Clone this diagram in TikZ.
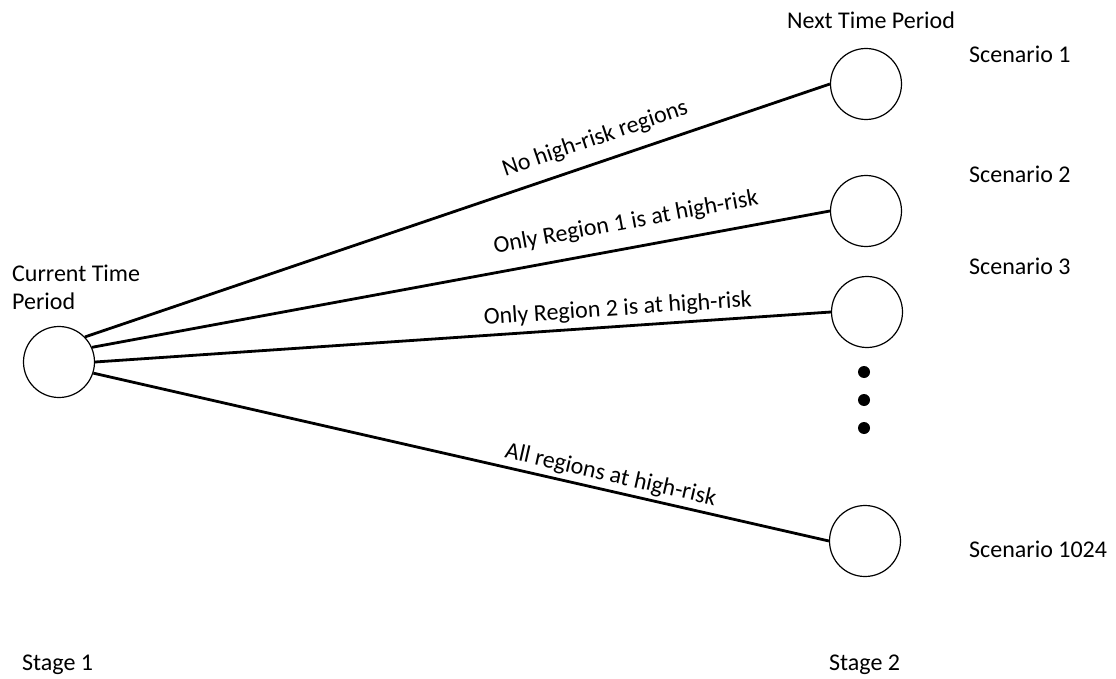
\documentclass[tikz,border=0pt]{standalone}
\usepackage{fontspec}
\setmainfont{Carlito}
\begin{document}
\begin{tikzpicture}[x=1pt,y=-1pt,
  state/.style={draw, circle, line width=1.2pt, minimum size=71pt, inner sep=0pt},
  conn/.style={line width=2.8pt},
  txt/.style={inner sep=0pt, anchor=base west, font=\fontsize{24}{28}\selectfont},
  lab/.style={inner sep=0pt, anchor=base west, sloped, font=\fontsize{24}{28}\selectfont},
  dotnode/.style={circle, fill=black, minimum size=12pt, inner sep=0pt}]
\useasboundingbox (0,0) rectangle (1116,679);
\node[state] (c0) at (59,362) {};
\node[state] (n1) at (866,84) {};
\node[state] (n2) at (866,211) {};
\node[state] (n3) at (867,312) {};
\node[state] (n4) at (865,541) {};
\node[dotnode] (d1) at (864,372) {};
\node[dotnode] (d2) at (864,400) {};
\node[dotnode] (d3) at (864,428) {};
\draw[conn] (c0.44) -- (n1.west) node[lab, pos=0.570, yshift=17pt] {No high-risk regions};
\draw[conn] (c0.24) -- (n2.west) node[lab, pos=0.549, yshift=19pt] {Only Region 1 is at high-risk};
\draw[conn] (c0.0) -- (n3.west) node[lab, pos=0.528, yshift=11pt] {Only Region 2 is at high-risk};
\draw[conn] (c0.-18) -- (n4.west) node[lab, pos=0.554, yshift=9pt] {All regions at high-risk};
\node[txt] (tnext) at (787,29) {Next Time Period};
\node[txt] (ts1) at (969,63) {Scenario 1};
\node[txt] (ts2) at (969,183) {Scenario 2};
\node[txt] (ts3) at (969,274) {Scenario 3};
\node[txt] (ts4) at (969,557) {Scenario 1024};
\node[txt] (tcur1) at (12,281) {Current Time};
\node[txt] (tcur2) at (12,309) {Period};
\node[txt] (tst1) at (22,670) {Stage 1};
\node[txt] (tst2) at (829,670) {Stage 2};
\end{tikzpicture}
\end{document}
